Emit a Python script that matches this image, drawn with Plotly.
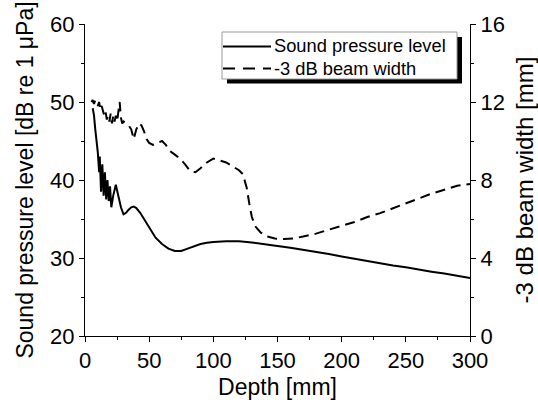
import plotly.graph_objects as go

# Sound pressure level (left axis)
spl_depth = [6, 7, 8, 9, 10, 11, 11.5, 12.5, 13.5, 14.5, 15.5, 16.5, 17.5, 18.5, 19.5, 20.5,
             22, 24, 26, 28, 30, 32, 34, 36, 38, 40, 43, 46, 50, 55, 60, 65, 70, 75, 80, 85,
             90, 95, 100, 110, 120, 130, 140, 150, 160, 170, 180, 190, 200, 210, 220, 230,
             240, 250, 260, 270, 280, 290, 300]
spl_db = [49.2, 48.3, 46.5, 45.0, 43.5, 41.0, 43.0, 38.5, 42.0, 38.0, 41.0, 37.5, 40.0, 37.3,
          39.2, 36.5, 38.0, 39.4, 38.0, 36.5, 35.6, 35.8, 36.2, 36.5, 36.6, 36.4, 35.8, 35.0,
          33.9, 32.6, 31.8, 31.2, 30.9, 30.9, 31.2, 31.5, 31.8, 31.95, 32.05, 32.15, 32.15,
          32.0, 31.8, 31.55, 31.3, 31.05, 30.8, 30.5, 30.2, 29.9, 29.6, 29.3, 29.05, 28.8,
          28.5, 28.25, 28.0, 27.75, 27.45]

# -3 dB beam width (right axis)
bw_depth = [5, 6, 7, 8, 9, 10, 11, 12, 13, 14, 15, 16, 17, 18, 19, 20, 21, 22, 23, 24, 25, 26,
            27, 28, 29, 30, 32, 34, 36, 38, 40, 42, 44, 46, 48, 50, 53, 56, 60, 63, 66, 70, 74,
            78, 82, 86, 90, 95, 100, 105, 110, 115, 120, 123, 126, 128, 130, 133, 137, 142,
            148, 155, 162, 170, 180, 190, 200, 210, 220, 230, 240, 250, 260, 270, 280, 290, 300]
bw_mm = [12.0, 12.1, 11.9, 12.1, 12.0, 11.8, 12.0, 11.6, 11.8, 11.5, 11.3, 11.5, 11.1, 11.3,
         11.0, 11.4, 10.9, 11.3, 11.0, 11.3, 11.0, 11.5, 12.0, 11.2, 10.9, 11.0, 10.9, 10.8,
         10.6, 10.1, 10.6, 10.9, 10.8, 10.5, 10.1, 9.9, 9.8, 9.9, 10.0, 9.8, 9.5, 9.3, 9.1,
         8.8, 8.45, 8.4, 8.6, 8.9, 9.1, 9.0, 8.9, 8.7, 8.5, 8.3, 7.6, 6.8, 6.1, 5.6, 5.3, 5.1,
         5.0, 4.97, 5.0, 5.1, 5.25, 5.45, 5.65, 5.85, 6.1, 6.3, 6.55, 6.8, 7.05, 7.3, 7.5,
         7.7, 7.8]

series_names = ["Sound pressure level", "-3 dB beam width"]

W, H = 538, 406
L, R, T, B = 85, 68, 24, 70
pw, ph = W - L - R, H - T - B

FONT = "Arial, Liberation Sans, sans-serif"


def px(x):
    return (x - L) / pw


def py(y):
    return (H - B - y) / ph


fig = go.Figure()
fig.add_trace(go.Scatter(x=spl_depth, y=spl_db, mode="lines", name=series_names[0],
                         line=dict(color="black", width=2), yaxis="y", showlegend=False))
fig.add_trace(go.Scatter(x=bw_depth, y=bw_mm, mode="lines", name=series_names[1],
                         line=dict(color="black", width=2, dash="10px,6px"), yaxis="y2",
                         showlegend=False))

axis_common = dict(showgrid=False, zeroline=False, showline=True, linecolor="black",
                   linewidth=1, ticks="outside", ticklen=5, tickcolor="black",
                   automargin=False,
                   tickfont=dict(family=FONT, size=22, color="black"))

# legend box (drawn as shapes + text so its compact size and shadow match)
lg_x0, lg_x1, lg_y0, lg_y1 = 222, 457, 32, 79
shapes = [
    dict(type="rect", xref="paper", yref="paper", x0=px(lg_x0 + 5), x1=px(lg_x1 + 5),
         y0=py(lg_y1 + 4.5), y1=py(lg_y0 + 5), fillcolor="black", line=dict(width=0),
         layer="above"),
    dict(type="rect", xref="paper", yref="paper", x0=px(lg_x0), x1=px(lg_x1),
         y0=py(lg_y1), y1=py(lg_y0), fillcolor="white", line=dict(color="#999", width=1),
         layer="above"),
    dict(type="line", xref="paper", yref="paper", x0=px(223), x1=px(271),
         y0=py(46.5), y1=py(46.5), line=dict(color="black", width=2), layer="above"),
    dict(type="line", xref="paper", yref="paper", x0=px(223), x1=px(271),
         y0=py(68.5), y1=py(68.5), line=dict(color="black", width=2, dash="12px,8px"),
         layer="above"),
]
annotations = [
    dict(text=series_names[0], xref="paper", yref="paper", x=px(272), y=py(46),
         xanchor="left", yanchor="middle", showarrow=False,
         font=dict(family=FONT, size=18.3, color="black")),
    dict(text=series_names[1], xref="paper", yref="paper", x=px(272), y=py(68),
         xanchor="left", yanchor="middle", showarrow=False,
         font=dict(family=FONT, size=18.3, color="black")),
]

fig.update_layout(
    width=W, height=H,
    margin=dict(l=L, r=R, t=T, b=B, pad=0, autoexpand=False),
    paper_bgcolor="white", plot_bgcolor="white",
    showlegend=False,
    xaxis=dict(range=[0, 300], dtick=50,
               minor=dict(dtick=25, ticks="outside", ticklen=3, tickcolor="black"),
               title=dict(text="Depth [mm]", font=dict(family=FONT, size=23, color="black"),
                          standoff=6),
               **axis_common),
    xaxis2=dict(range=[0, 300], dtick=25, overlaying="x", side="top", anchor="y",
                showgrid=False, zeroline=False, showline=True, linecolor="#888",
                linewidth=1, ticks="inside", ticklen=4, tickcolor="#888",
                showticklabels=False, automargin=False),
    yaxis=dict(range=[20, 60], dtick=10,
               minor=dict(dtick=5, ticks="outside", ticklen=3, tickcolor="black"),
               title=dict(text="Sound pressure level [dB re 1 μPa]",
                          font=dict(family=FONT, size=23, color="black"), standoff=10),
               **axis_common),
    yaxis2=dict(range=[0, 16], dtick=4, overlaying="y", side="right", anchor="x",
                minor=dict(dtick=2, ticks="outside", ticklen=3, tickcolor="black"),
                title=dict(text="-3 dB beam width [mm]",
                           font=dict(family=FONT, size=24, color="black"), standoff=16),
                **axis_common),
    shapes=shapes,
    annotations=annotations,
)

fig.write_html("out.html")
